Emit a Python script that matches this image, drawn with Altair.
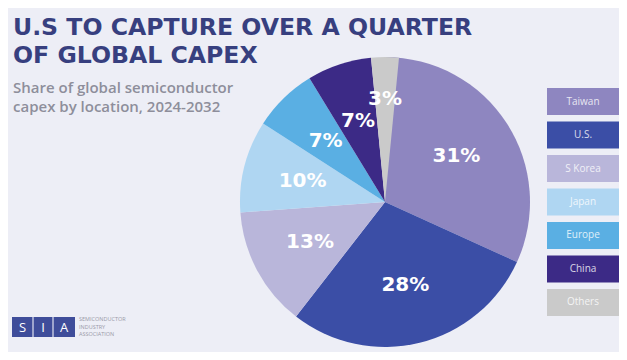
import altair as alt
import pandas as pd

regions = ["Taiwan", "U.S.", "S Korea", "Japan", "Europe", "China", "Others"]
shares = [31, 28, 13, 10, 7, 7, 3]
labels = ["31%", "28%", "13%", "10%", "7%", "7%", "3%"]
colors = ["#8E86C0", "#3B4EA6", "#B9B6DA", "#AFD6F2", "#5AAFE3", "#3C2A86", "#CACACA"]
title_lines = ["U.S TO CAPTURE OVER A QUARTER", "OF GLOBAL CAPEX"]
subtitle_lines = ["Share of global semiconductor", "capex by location, 2024-2032"]
logo_letters = ["S", "I", "A"]
logo_words = ["SEMICONDUCTOR", "INDUSTRY", "ASSOCIATION"]

df = pd.DataFrame({
    "region": regions,
    "share": shares,
    "label": labels,
    "order": list(range(len(regions))),
})

color_scale = alt.Scale(domain=regions, range=colors)
CX, CY = 377, 194

base = (
    alt.Chart(df)
    .transform_window(cum="sum(share)", sort=[alt.SortField("order")], frame=[None, 0])
    .transform_calculate(start="datum.cum - datum.share", mid="datum.cum - datum.share / 2")
)

pie = base.mark_arc(outerRadius=145).encode(
    theta=alt.Theta("start:Q"),
    theta2="cum:Q",
    color=alt.Color("region:N", scale=color_scale, legend=None),
    x=alt.value(CX),
    y=alt.value(CY),
)

pie_text_font = dict(font="DejaVu Sans", fontSize=20, fontWeight="bold", color="white")
pie_labels = base.transform_filter("datum.region != 'Others'").mark_text(
    radius=85, **pie_text_font
).encode(theta=alt.Theta("mid:Q"), text="label:N", x=alt.value(CX), y=alt.value(CY))
pie_labels_small = base.transform_filter("datum.region == 'Others'").mark_text(
    radius=103, **pie_text_font
).encode(theta=alt.Theta("mid:Q"), text="label:N", x=alt.value(CX), y=alt.value(CY))

legend_y = alt.Y(
    "region:N", sort=regions,
    scale=alt.Scale(range=[80, 308], paddingInner=0.19, paddingOuter=0),
    axis=None,
)
legend_rect = alt.Chart(df).mark_rect().encode(
    y=legend_y, x=alt.value(539), x2=alt.value(611),
    color=alt.Color("region:N", scale=color_scale, legend=None),
)
legend_text = alt.Chart(df).mark_text(
    font="Open Sans", fontSize=10, color="white", opacity=0.8
).encode(y=legend_y, x=alt.value(575), text="region:N")


def label(txt, x, y, **kw):
    return alt.Chart(pd.DataFrame({"t": [txt]})).mark_text(
        align=kw.pop("align", "left"), baseline="alphabetic", **kw
    ).encode(x=alt.value(x), y=alt.value(y), text="t:N")


title_kw = dict(font="DejaVu Sans", fontSize=23.6, fontWeight="bold", color="#373F7F")
sub_kw = dict(font="Open Sans", fontSize=15, fontWeight=600, color="#8E8E9B")
texts = [
    label(title_lines[0], 5, 27, **title_kw),
    label(title_lines[1], 5, 55, **title_kw),
    label(subtitle_lines[0], 5, 85, **sub_kw),
    label(subtitle_lines[1], 5, 104, **sub_kw),
]

one = pd.DataFrame({"a": [0]})
logo_box = alt.Chart(one).mark_rect(color="#3F4D9A").encode(
    x=alt.value(4), x2=alt.value(67), y=alt.value(309), y2=alt.value(329)
)
logo_seps = [
    alt.Chart(one).mark_rule(color="white", strokeWidth=1).encode(
        x=alt.value(sx), y=alt.value(309), y2=alt.value(329)
    )
    for sx in (25, 45)
]
logo_kw = dict(font="Open Sans", fontSize=13, color="white", align="center")
logo_txt = [label(l, lx, 324, **dict(logo_kw)) for l, lx in zip(logo_letters, (14.5, 35, 56))]
word_kw = dict(font="Open Sans", fontSize=5.5, color="#9A9AA8")
logo_word_txt = [label(w, 71, wy, **word_kw) for w, wy in zip(logo_words, (313, 320.5, 328))]

chart = alt.layer(
    pie, pie_labels, pie_labels_small, legend_rect, legend_text,
    *texts, logo_box, *logo_seps, *logo_txt, *logo_word_txt,
).properties(
    width=611, height=344,
    autosize=alt.AutoSizeParams(type="none"),
    padding=0,
    background="#EDEEF6",
).configure_view(stroke=None)

chart.save("out.html", embed_options={"renderer": "svg", "actions": False})
